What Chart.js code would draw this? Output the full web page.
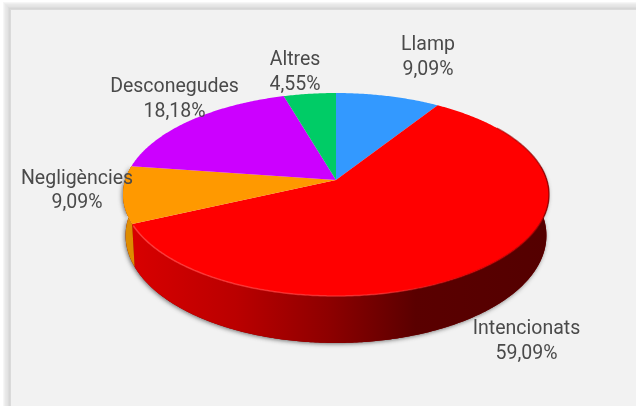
<!DOCTYPE html>
<html>
<head>
<meta charset="utf-8">
<script src="https://cdn.jsdelivr.net/npm/chart.js@4"></script>
<style>
html, body { margin: 0; padding: 0; background: #fff; }
canvas { display: block; }
</style>
</head>
<body>
<canvas id="pieChart" width="636" height="406"></canvas>
<script>
let categories = ['Llamp', 'Intencionats', 'Negligències', 'Desconegudes', 'Altres'];
let percents = [9.09, 59.09, 9.09, 18.18, 4.55];
let colors = ['#3399ff', '#ff0000', '#ff9900', '#cc00ff', '#00cc66'];

// label centres, two lines each
let labelSpots = [[428, 45.5], [526.5, 329.5], [77, 179], [174.5, 87.5], [295, 60.5]];

// perspective of the disc: v=-1 back, v=0 apex, v=1 front
let cx = 336, cy = 180, rx = 210.8, persp = -0.1429, ySlope = 73.7;
let depthBase = 40, depthFront = 7, shrink = 0.988;

function top3d(a) {
    let u = Math.cos(a), v = Math.sin(a);
    let d = 1 + persp * v;
    return [cx + rx * u / d, (cy + ySlope * v) / d];
}
function bottom3d(a) {
    let p = top3d(a);
    return [cx + (p[0] - cx) * shrink, p[1] + depthBase + depthFront * Math.sin(a)];
}
function rimPath(ctx, pointAt, a0, a1, first) {
    let n = Math.max(2, Math.ceil(Math.abs(a1 - a0) / 0.01));
    for (let i = 0; i <= n; i++) {
        let p = pointAt(a0 + (a1 - a0) * i / n);
        if (i == 0 && first) ctx.moveTo(p[0], p[1]);
        else ctx.lineTo(p[0], p[1]);
    }
}
function wallPath(ctx, a0, a1) {
    ctx.beginPath();
    rimPath(ctx, top3d, a0, a1, true);
    rimPath(ctx, bottom3d, a1, a0, false);
    ctx.closePath();
}
function wallFill(ctx, i) {
    if (i == 1) {
        let g = ctx.createLinearGradient(132, 0, 549, 0);
        g.addColorStop(0, '#d80000');
        g.addColorStop(0.25, '#ba0000');
        g.addColorStop(0.47, '#8e0000');
        g.addColorStop(0.68, '#5a0000');
        g.addColorStop(1, '#540000');
        return g;
    }
    return i == 2 ? '#de8c00' : colors[i];
}

let pie3d = {
    id: 'pie3d',
    beforeDraw(chart) {
        let ctx = chart.ctx;
        ctx.save();
        ctx.fillStyle = '#ffffff';
        ctx.fillRect(0, 0, 636, 406);
        let bands = ['#f6f6f6', '#efefef', '#e9e9e9', '#e6e6e6', '#e3e3e3', '#dcdcdc', '#d6d6d6', '#dadada'];
        bands.forEach(function (c, i) {
            ctx.fillStyle = c;
            ctx.fillRect(3 + i, 2 + i, 636, 406);
        });
        ctx.fillStyle = '#f2f2f2';
        ctx.fillRect(11, 10, 636, 406);
        ctx.restore();
    },
    beforeDatasetsDraw(chart) {
        let ctx = chart.ctx;
        let arcs = chart.getDatasetMeta(0).data;
        // the silhouette turns where sin(a) equals the perspective factor
        let lo = -0.143, hi = Math.PI + 0.143;

        // soft shadow under the bottom rim
        ctx.save();
        ctx.shadowColor = 'rgba(60,60,60,0.7)';
        ctx.shadowBlur = 4;
        ctx.shadowOffsetX = -1;
        ctx.shadowOffsetY = 1;
        ctx.fillStyle = '#800000';
        wallPath(ctx, lo, hi);
        ctx.fill();
        ctx.restore();

        // side walls
        arcs.forEach(function (arc, i) {
            let a0 = Math.max(arc.startAngle, lo), a1 = Math.min(arc.endAngle, hi);
            if (a1 <= a0) return;
            ctx.fillStyle = wallFill(ctx, i);
            wallPath(ctx, a0, a1);
            ctx.fill();
        });

        // top face
        arcs.forEach(function (arc, i) {
            ctx.beginPath();
            ctx.moveTo(cx, cy);
            rimPath(ctx, top3d, arc.startAngle, arc.endAngle, false);
            ctx.closePath();
            ctx.fillStyle = colors[i];
            ctx.fill();
        });

        // bevel along the rim of the big slice
        let red = arcs[1];
        let b = ctx.createLinearGradient(132, 0, 549, 0);
        b.addColorStop(0, 'rgba(255,70,70,0.8)');
        b.addColorStop(0.6, 'rgba(255,60,60,0.6)');
        b.addColorStop(0.8, 'rgba(200,0,0,0.5)');
        b.addColorStop(1, 'rgba(130,0,0,0.7)');
        ctx.strokeStyle = b;
        ctx.lineWidth = 1.5;
        ctx.beginPath();
        rimPath(ctx, top3d, red.startAngle + 0.4, red.endAngle - 0.02, true);
        ctx.stroke();
        return false;
    },
    afterDraw(chart) {
        let ctx = chart.ctx;
        ctx.save();
        ctx.font = '19.5px Roboto';
        ctx.fillStyle = '#4a4a4a';
        ctx.textAlign = 'center';
        ctx.textBaseline = 'middle';
        categories.forEach(function (name, i) {
            let spot = labelSpots[i];
            ctx.fillText(name, spot[0], spot[1]);
            ctx.fillText(percents[i].toFixed(2).replace('.', ',') + '%', spot[0], spot[1] + 24.5);
        });
        ctx.restore();
    }
};

let pieChart = new Chart(document.getElementById('pieChart'), {
    type: 'pie',
    data: {
        labels: categories,
        datasets: [{ data: percents, backgroundColor: colors, borderWidth: 0 }]
    },
    options: {
        responsive: false,
        animation: false,
        plugins: { legend: { display: false }, tooltip: { enabled: false } }
    },
    plugins: [pie3d]
});
</script>
</body>
</html>
